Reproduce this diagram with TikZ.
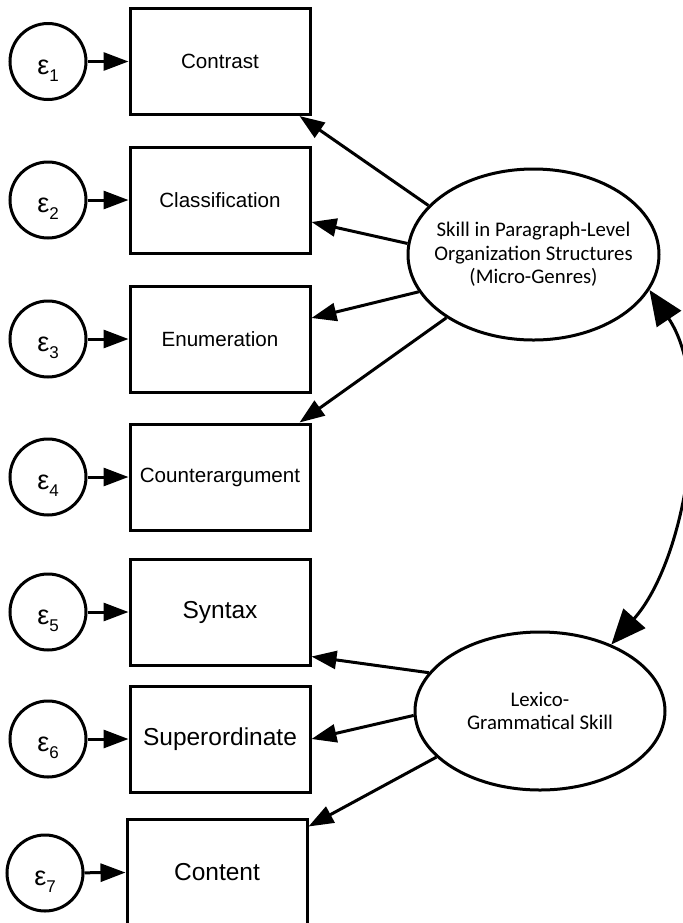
\documentclass[tikz,border=0pt]{standalone}
\usepackage{fontspec}
\setmainfont{Liberation Sans}
\newfontfamily\calibrifont{Carlito}
\usetikzlibrary{arrows.meta,shapes.geometric}
\newcommand\epsterm[1]{{\fontsize{13.5}{13.5}\selectfont ε}\raisebox{-3.5pt}{\fontsize{8.5}{9}\selectfont #1}}
\tikzset{
    indicator/.style={draw,line width=1.5pt,minimum width=90pt,minimum height=53pt,inner sep=0pt,font=\fontsize{10.3}{12}\selectfont},
    bigindicator/.style={indicator,font=\fontsize{12.25}{14}\selectfont},
    errorterm/.style={draw,circle,line width=1.5pt,minimum size=38pt,inner sep=0pt,text height=12.5pt,text depth=0pt},
    latent/.style={draw,ellipse,line width=1.5pt,inner sep=0pt},
    latenttext/.style={align=center,font=\calibrifont\fontsize{10.4}{11.75}\selectfont},
    loading/.style={line width=1.5pt,-{Triangle[length=12.5pt,width=9pt]}},
    covar/.style={line width=1.5pt,{Triangle[length=17.5pt,width=14.5pt]}-{Triangle[length=17.5pt,width=14.5pt]}}
}
\begin{document}
\begin{tikzpicture}[x=0.5pt,y=-0.5pt]
    \useasboundingbox (0,0) rectangle (682,923);
    % observed indicators
    \node[indicator] (b1) at (220,61.5) {Contrast};
    \node[indicator] (b2) at (220,200) {Classification};
    \node[indicator] (b3) at (220,339) {Enumeration};
    \node[indicator] (b4) at (220,477) {Counterargument};
    \node[bigindicator] (b5) at (220,612) {Syntax};
    \node[bigindicator] (b6) at (220,739) {Superordinate};
    \node[bigindicator] (b7) at (217,872) {Content};
    % error terms
    \foreach \i/\x/\y in {1/48/61.5,2/48/200,3/48/339,4/48/477,5/48/612,6/48/739,7/45/873}{
        \node[errorterm] (err\i) at (\x,\y) {\epsterm{\i}};
        \draw[loading] (err\i) -- (b\i);
    }
    % latent factors
    \node[latent,minimum width=125.5pt,minimum height=85.5pt] (genre) at (533.5,254.5) {};
    \node[latenttext] (genretext) at (genre) {Skill in Paragraph-Level\\Organization Structures\\(Micro-Genres)};
    \node[latent,minimum width=125pt,minimum height=79pt] (lexgram) at (540,711) {};
    \node[latenttext] (lexgramtext) at (lexgram) {Lexico-\\Grammatical Skill};
    \draw[loading] (genre.155.3) -- ([xshift=-6pt]b1.south east);
    \draw[loading] (genre.175.1) -- ([yshift=-11pt]b2.east);
    \draw[loading] (genre.198.3) -- ([yshift=10.5pt]b3.east);
    \draw[loading] (genre.216.3) -- ([xshift=-6pt]b4.north east);
    \draw[loading] (lexgram.161.3) -- ([yshift=5pt]b5.south east);
    \draw[loading] (lexgram.182.3) -- (b6.east);
    \draw[loading] (lexgram.204.1) -- ([yshift=-4.5pt]b7.north east);
    \draw[covar] (genre.-17) .. controls +(64,95) and +(76,-86) .. (lexgram.43.3);
\end{tikzpicture}
\end{document}
